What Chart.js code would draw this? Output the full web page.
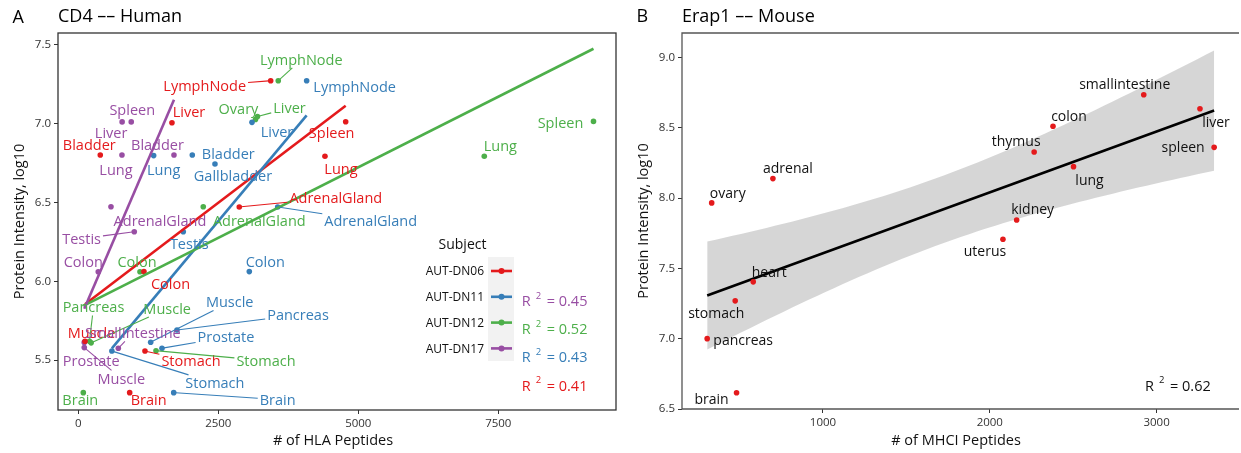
<!DOCTYPE html>
<html><head><meta charset="utf-8">
<script src="https://cdn.jsdelivr.net/npm/chart.js@4.4.1/dist/chart.umd.min.js"></script>
<style>
html,body{margin:0;padding:0;background:#fff;width:1241px;height:453px;overflow:hidden}
#ca{position:absolute;left:0;top:0}
#cb{position:absolute;left:620px;top:0}
</style></head><body>
<canvas id="ca" width="620" height="453"></canvas>
<canvas id="cb" width="621" height="453"></canvas>
<script>
// ---------------- DATA ----------------
const subjects = ['AUT-DN06','AUT-DN11','AUT-DN12','AUT-DN17'];

const dn06Tissue    = ['LymphNode','Liver','Bladder','Spleen','Lung','AdrenalGland','Colon','Muscle','Stomach','Brain'];
const dn06Peptides  = [3436,1673,393,4775,4405,2875,1173,120,1191,918];
const dn06Intensity = [7.273,7.007,6.802,7.013,6.794,6.472,6.062,5.620,5.558,5.294];

const dn11Tissue    = ['LymphNode','Liver','Bladder','Lung','Gallbladder','AdrenalGland','Testis','Colon','Muscle','Pancreas','Prostate','Stomach','Brain'];
const dn11Peptides  = [4078,3102,2036,1346,2441,3561,1875,3054,1293,1763,1495,600,1704];
const dn11Intensity = [7.273,7.009,6.802,6.798,6.745,6.472,6.315,6.062,5.614,5.692,5.576,5.558,5.294];

const dn12Tissue    = ['LymphNode','Ovary','Liver','Spleen','Lung','AdrenalGland','Colon','Pancreas','Muscle','Stomach','Brain'];
const dn12Peptides  = [3571,3164,3200,9200,7250,2232,1102,200,230,1388,90];
const dn12Intensity = [7.273,7.027,7.046,7.015,6.794,6.474,6.061,5.620,5.610,5.560,5.294];

const dn17Tissue    = ['Liver','Spleen','Bladder','Lung','AdrenalGland','Testis','Colon','Prostate','Muscle','SmallIntestine'];
const dn17Peptides  = [783,946,1709,780,584,1000,357,107,107,715];
const dn17Intensity = [7.012,7.012,6.802,6.802,6.474,6.315,6.061,5.613,5.580,5.576];

const r2Subject = ['AUT-DN17','AUT-DN12','AUT-DN11','AUT-DN06'];
const r2Value   = ['0.45','0.52','0.43','0.41'];

const xTicksA = [0,2500,5000,7500];
const xTickLabelsA = ['0','2500','5000','7500'];
const yTicksA = [5.5,6.0,6.5,7.0,7.5];
const yTickLabelsA = ['5.5','6.0','6.5','7.0','7.5'];

const mouseTissue    = ['ovary','adrenal','heart','stomach','pancreas','brain','smallintestine','colon','thymus','lung','liver','spleen','kidney','uterus'];
const mousePeptides  = [333,700,582,474,306,482,2923,2379,2266,2502,3260,3345,2161,2079];
const mouseIntensity = [7.965,8.138,7.404,7.269,7.000,6.616,8.734,8.510,8.327,8.223,8.635,8.360,7.844,7.707];
const mouseR2 = '0.62';

const xTicksB = [1000,2000,3000];
const xTickLabelsB = ['1000','2000','3000'];
const yTicksB = [6.5,7.0,7.5,8.0,8.5,9.0];
const yTickLabelsB = ['6.5','7.0','7.5','8.0','8.5','9.0'];

// ---------------- STYLE (label offsets in px: dx, dy, leader) ----------------
const subjectColor = {'AUT-DN06':'#E41A1C','AUT-DN11':'#377EB8','AUT-DN12':'#4DAF4A','AUT-DN17':'#984EA3'};
const dn06Off = [[-66,5,1],[17,-11,0],[-11,-10,0],[-14,11,0],[16,13,0],[96.5,-9.5,1],[26.5,12,0],[6.5,-8,0],[46,10,1],[19,7,0]];
const dn11Off = [[48,6,0],[25,9,0],[36,-1.5,0],[10,14,0],[18,12,0],[93,14,1],[6,12,0],[16,-10,0],[79,-40,1],[121,-15,1],[64,-11,1],[103,32,1],[104,7,1]];
const dn12Off = [[23,-21,1],[-17,-11,0],[32,-8.5,1],[-33,1,0],[16,-10,0],[56,14,0],[-3,-9.5,0],[4,-34,1],[76,-34,1],[110,10,1],[-3,7.5,0]];
const dn17Off = [[-11,11,0],[1,-12,0],[-16.5,-10,0],[-6,14.5,0],[49,14,0],[-52.7,7,1],[-15,-9.5,0],[7,18.6,0],[37,31,1],[14.5,-15,1]];
const mouseOff = [[16,-10],[15,-11],[16,-10],[-19,12],[36,1],[-25,6],[-19,-11],[16,-10],[-18,-11],[16,13],[16,13],[-31,0],[16,-11],[-18,12]];

const FONT = "'Open Sans', 'Noto Sans', sans-serif";
const TCRIT = 2.179; // t(0.975, df = 12)

// ---------------- helpers ----------------
function ols(xs, ys){
  const n = xs.length;
  const mx = xs.reduce((a,b)=>a+b,0)/n, my = ys.reduce((a,b)=>a+b,0)/n;
  let sxx=0, sxy=0, syy=0;
  for(let i=0;i<n;i++){const dx=xs[i]-mx, dy=ys[i]-my; sxx+=dx*dx; sxy+=dx*dy; syy+=dy*dy;}
  const slope = sxy/sxx, icpt = my - slope*mx;
  const sse = syy - slope*sxy;
  return {n, mx, sxx, slope, icpt, s: Math.sqrt(sse/(n-2)), minX: Math.min(...xs), maxX: Math.max(...xs)};
}

function drawLabel(ctx, text, px, py, dx, dy, leader, color, fs){
  ctx.font = fs + 'px ' + FONT;
  const w = ctx.measureText(text).width;
  const cx = px+dx, cy = py+dy;
  const capH = 0.714*fs;
  if(leader){
    const hw = w/2+2, hh = capH/2+3;
    const Dx = cx-px, Dy = cy-py;
    let t = 0;
    if(Math.abs(Dx)>hw) t = Math.max(t, 1-hw/Math.abs(Dx));
    if(Math.abs(Dy)>hh) t = Math.max(t, 1-hh/Math.abs(Dy));
    const L = Math.hypot(Dx,Dy);
    const t0 = Math.min(2/L, t);
    ctx.beginPath();
    ctx.moveTo(px+Dx*t0, py+Dy*t0);
    ctx.lineTo(px+Dx*t, py+Dy*t);
    ctx.strokeStyle = color; ctx.lineWidth = 1.1; ctx.stroke();
  }
  ctx.fillStyle = color; ctx.textAlign = 'center'; ctx.textBaseline = 'alphabetic';
  ctx.fillText(text, cx, cy+capH/2);
}

function text(ctx, s, x, y, size, color, align){
  ctx.font = size + 'px ' + FONT;
  ctx.fillStyle = color; ctx.textAlign = align || 'left'; ctx.textBaseline = 'alphabetic';
  ctx.fillText(s, x, y);
}

function r2Text(ctx, val, x, y, color){
  text(ctx, 'R', x, y, 14.5, color);
  text(ctx, '2', x+14, y-7.5, 9.5, color);
  text(ctx, '= ' + val, x+25, y, 14.5, color);
}

function tickScale(ticks, labels){
  return {
    afterBuildTicks: s => { s.ticks = ticks.map(v => ({value: v})); },
    ticks: {callback: (v, i) => labels[i], font:{family:FONT, size:11.5}, color:'#333', autoSkip:false, maxRotation:0}
  };
}

// ---------------- PANEL A ----------------
const seriesA = [
  {name: subjects[0], tissue: dn06Tissue, x: dn06Peptides, y: dn06Intensity, off: dn06Off},
  {name: subjects[1], tissue: dn11Tissue, x: dn11Peptides, y: dn11Intensity, off: dn11Off},
  {name: subjects[2], tissue: dn12Tissue, x: dn12Peptides, y: dn12Intensity, off: dn12Off},
  {name: subjects[3], tissue: dn17Tissue, x: dn17Peptides, y: dn17Intensity, off: dn17Off}
];
const dsA = [];
seriesA.forEach((s,k) => {
  dsA.push({label: s.name, order: 10+k, data: s.x.map((v,i)=>({x:v, y:s.y[i]})), showLine:false,
    pointRadius:2.8, pointBackgroundColor: subjectColor[s.name], pointBorderWidth:0});
});
seriesA.forEach((s,k) => {
  const f = ols(s.x, s.y);
  dsA.push({label: s.name + ' fit', order: 4-k, data: [{x:f.minX, y:f.icpt+f.slope*f.minX},{x:f.maxX, y:f.icpt+f.slope*f.maxX}],
    showLine:true, pointRadius:0, borderColor: subjectColor[s.name], borderWidth:2.6, fill:false, borderCapStyle:'butt'});
});

const plugA = {
  id:'plugA',
  afterDatasetsDraw(chart){
    const ctx = chart.ctx, xs = chart.scales.x, ys = chart.scales.y, ca = chart.chartArea;
    ctx.save();
    seriesA.forEach(s => {
      const c = subjectColor[s.name];
      s.tissue.forEach((t,i) => {
        const px = xs.getPixelForValue(s.x[i]), py = ys.getPixelForValue(s.y[i]);
        drawLabel(ctx, t, px, py, s.off[i][0], s.off[i][1], s.off[i][2], c, 14.5);
      });
    });
    // box
    ctx.strokeStyle = '#333'; ctx.lineWidth = 1.3;
    ctx.strokeRect(ca.left, ca.top, ca.right-ca.left, ca.bottom-ca.top);
    // legend
    text(ctx, 'Subject', 462.5, 249, 14, '#111', 'center');
    ctx.fillStyle = '#F2F2F2'; ctx.fillRect(488, 257, 26, 104);
    subjects.forEach((n,i) => {
      const cy = 271 + i*25.8;
      ctx.strokeStyle = subjectColor[n]; ctx.lineWidth = 2.6;
      ctx.beginPath(); ctx.moveTo(491, cy); ctx.lineTo(512, cy); ctx.stroke();
      ctx.fillStyle = subjectColor[n]; ctx.beginPath(); ctx.arc(501.5, cy, 3, 0, Math.PI*2); ctx.fill();
      text(ctx, n, 484, cy+4.3, 12, '#111', 'right');
    });
    // R2 labels
    r2Subject.forEach((n,i) => r2Text(ctx, r2Value[i], 521.7, 306 + i*28.2, subjectColor[n]));
    // titles
    text(ctx, 'A', 12.5, 23, 18, '#000');
    text(ctx, 'CD4 –– Human', 58, 22, 18, '#000');
    text(ctx, '# of HLA Peptides', 333, 445, 14.5, '#111', 'center');
    ctx.save(); ctx.translate(24, (ca.top+ca.bottom)/2); ctx.rotate(-Math.PI/2);
    text(ctx, 'Protein Intensity, log10', 0, 0, 14.5, '#111', 'center'); ctx.restore();
    ctx.restore();
  }
};

new Chart(document.getElementById('ca'), {
  type:'scatter',
  data:{datasets: dsA},
  options:{
    responsive:false, animation:false, events:[], devicePixelRatio:1,
    layout:{padding:{top:33, right:4, left:0, bottom:0}},
    plugins:{legend:{display:false}, tooltip:{enabled:false}},
    scales:{
      x: Object.assign({type:'linear', min:-362, max:9602,
        grid:{drawOnChartArea:false, tickLength:4, color:'#333'}, border:{display:false},
        afterFit: s => { s.height = 43; }}, tickScale(xTicksA, xTickLabelsA)),
      y: Object.assign({type:'linear', min:5.184, max:7.576,
        grid:{drawOnChartArea:false, tickLength:4, color:'#333'}, border:{display:false},
        afterFit: s => { s.width = 58; }}, tickScale(yTicksA, yTickLabelsA))
    }
  },
  plugins:[plugA]
});

// ---------------- PANEL B ----------------
const fB = ols(mousePeptides, mouseIntensity);
const bandX = [];
for(let i=0;i<=60;i++) bandX.push(fB.minX + (fB.maxX-fB.minX)*i/60);
const half = x => TCRIT*fB.s*Math.sqrt(1/fB.n + (x-fB.mx)*(x-fB.mx)/fB.sxx);
const dsB = [
  {label:'upper', order:10, data: bandX.map(x=>({x, y: fB.icpt+fB.slope*x + half(x)})), showLine:true, pointRadius:0, borderWidth:0,
    fill:'+1', backgroundColor:'rgba(153,153,153,0.4)'},
  {label:'lower', order:9, data: bandX.map(x=>({x, y: fB.icpt+fB.slope*x - half(x)})), showLine:true, pointRadius:0, borderWidth:0, fill:false},
  {label:'fit', order:5, data:[{x:fB.minX, y:fB.icpt+fB.slope*fB.minX},{x:fB.maxX, y:fB.icpt+fB.slope*fB.maxX}], showLine:true, pointRadius:0,
    borderColor:'#000', borderWidth:2.6, fill:false, borderCapStyle:'butt'},
  {label:'tissues', order:1, data: mousePeptides.map((v,i)=>({x:v, y:mouseIntensity[i]})), showLine:false,
    pointRadius:2.8, pointBackgroundColor:'#E41A1C', pointBorderWidth:0}
];

const plugB = {
  id:'plugB',
  afterDatasetsDraw(chart){
    const ctx = chart.ctx, xs = chart.scales.x, ys = chart.scales.y, ca = chart.chartArea;
    ctx.save();
    mouseTissue.forEach((t,i) => {
      const px = xs.getPixelForValue(mousePeptides[i]), py = ys.getPixelForValue(mouseIntensity[i]);
      drawLabel(ctx, t, px, py, mouseOff[i][0], mouseOff[i][1], 0, '#111', 14);
    });
    ctx.strokeStyle = '#555'; ctx.lineWidth = 1.3;
    ctx.beginPath();
    ctx.moveTo(ca.right+2, ca.top); ctx.lineTo(ca.left, ca.top); ctx.lineTo(ca.left, ca.bottom); ctx.lineTo(ca.right+2, ca.bottom);
    ctx.stroke();
    r2Text(ctx, mouseR2, 525, 390.7, '#111');
    text(ctx, 'B', 16.5, 22, 18, '#000');
    text(ctx, 'Erap1 –– Mouse', 62, 22, 18, '#000');
    text(ctx, '# of MHCI Peptides', 336, 445, 14.5, '#111', 'center');
    ctx.save(); ctx.translate(28, (ca.top+ca.bottom)/2); ctx.rotate(-Math.PI/2);
    text(ctx, 'Protein Intensity, log10', 0, 0, 14.5, '#111', 'center'); ctx.restore();
    ctx.restore();
  }
};

new Chart(document.getElementById('cb'), {
  type:'scatter',
  data:{datasets: dsB},
  options:{
    responsive:false, animation:false, events:[], devicePixelRatio:1,
    layout:{padding:{top:33, right:0, left:0, bottom:0}},
    plugins:{legend:{display:false}, tooltip:{enabled:false}, filler:{propagate:false}},
    scales:{
      x: Object.assign({type:'linear', min:155, max:3482,
        grid:{drawOnChartArea:false, tickLength:4, color:'#333'}, border:{display:false},
        afterFit: s => { s.height = 44; }}, tickScale(xTicksB, xTickLabelsB)),
      y: Object.assign({type:'linear', min:6.5, max:9.173,
        grid:{drawOnChartArea:false, tickLength:4, color:'#333'}, border:{display:false},
        afterFit: s => { s.width = 62; }}, tickScale(yTicksB, yTickLabelsB))
    }
  },
  plugins:[plugB]
});
</script></body></html>
